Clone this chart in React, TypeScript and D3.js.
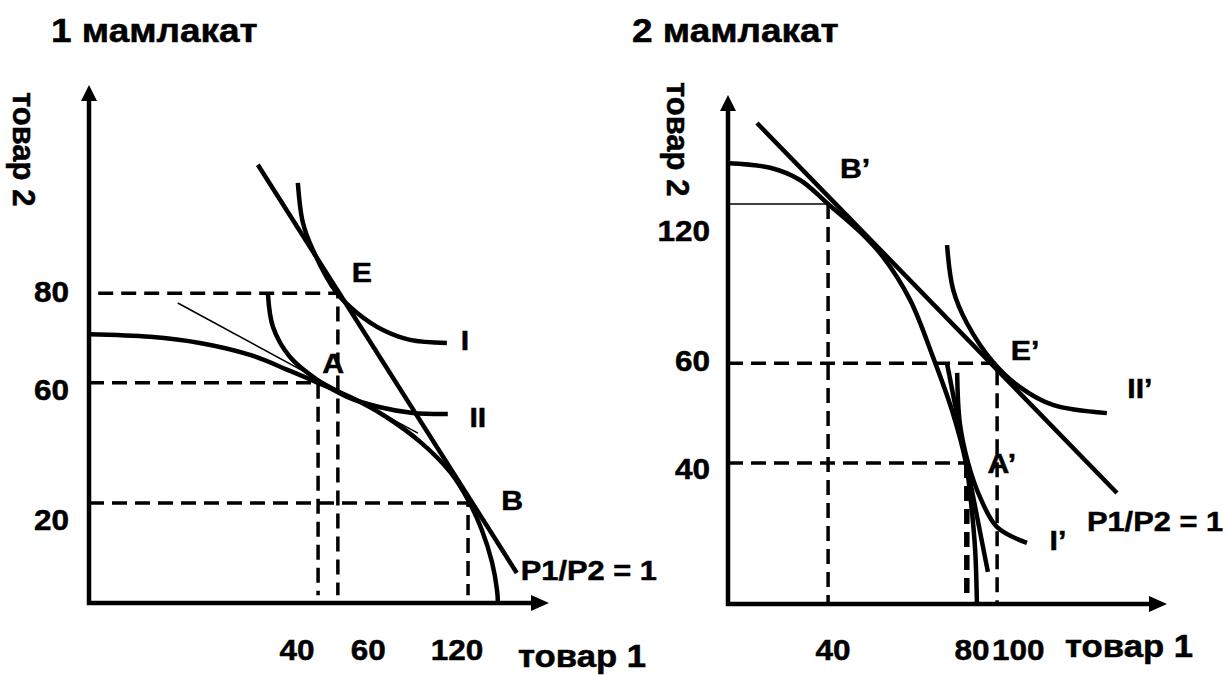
import React from 'react';
import * as d3 from 'd3';

type Pt = [number, number];

// --- country 1 (left panel), schematic units 0..100 on both axes
const ppf1: Pt[] = [
  [0, 51.9], [13.3, 51.4], [24.1, 50.2], [35.0, 47.9], [43.7, 44.8], [49.8, 42.5],
  [56.7, 39.8], [64.3, 36.1], [72.0, 31.1], [78.5, 25.3], [82.4, 19.9], [85.4, 14.1],
  [87.6, 7.9], [88.7, 2.5], [88.9, 0],
];
const curveI1: Pt[] = [
  [45.4, 81.1], [46.5, 73.4], [48.7, 68.1], [53.9, 59.8], [58.3, 56.0], [63.9, 52.7],
  [69.8, 50.8], [77.8, 50.2],
];
const curveII1: Pt[] = [
  [38.9, 59.7], [40.0, 53.3], [43.7, 47.5], [49.6, 43.1], [56.1, 39.8], [63.3, 37.8],
  [70.4, 36.7], [78.0, 36.5],
];
const tangentA1: Pt[] = [[19.3, 57.9], [71.5, 32.8]];
const price1: Pt[] = [[36.7, 84.6], [93.0, 5.8]];
const pointA: Pt = [49.8, 42.5];
const pointE: Pt = [54.1, 59.8];
const pointB: Pt = [82.4, 19.3];
const xTickAt1 = [45.2, 60.7, 80.0];
const xTickLabels1 = ['40', '60', '120'];
const yTickAt1 = [60.2, 41.3, 16.2];
const yTickLabels1 = ['80', '60', '20'];

// --- country 2 (right panel)
const ppf2: Pt[] = [
  [0, 86.6], [9.6, 85.7], [16.4, 83.3], [22.8, 78.6], [30.1, 73.1], [35.3, 68.2],
  [41.5, 59.7], [46.7, 48.5], [51.0, 38.1], [54.2, 27.7], [55.3, 20.4], [56.3, 10.6],
  [56.7, 0],
];
const curveII2: Pt[] = [
  [49.9, 70.5], [51.3, 61.7], [54.4, 55.2], [60.4, 47.5], [66.5, 42.6], [74.0, 39.1],
  [86.3, 37.5],
];
const curveI2: Pt[] = [
  [52.2, 45.4], [52.8, 35.6], [54.7, 27.7], [57.4, 21.0], [61.3, 15.1], [68.1, 12.0],
];
const tangentA2: Pt[] = [[49.9, 47.2], [59.2, 6.3]];
const price2: Pt[] = [[6.6, 94.5], [88.6, 21.8]];
const pointB2: Pt = [22.8, 78.6];
const pointE2: Pt = [61.3, 47.3];
const pointA2: Pt = [54.4, 27.7];
const xTickAt2 = [23.9, 55.6, 66.1];
const xTickLabels2 = ['40', '80', '100'];
const yTickAt2 = [73.5, 47.9, 26.7];
const yTickLabels2 = ['120', '60', '40'];

const FONT = "'Liberation Sans', Arial, Helvetica, sans-serif";
const DASH = '15,8';

// bold text, optionally stretched horizontally like the original scan
function Label({ x, y, size, anchor = 'middle', sx = 1, dy = '0.36em', children }: any) {
  return (
    <text transform={`translate(${x},${y}) scale(${sx},1)`} dy={dy} fontSize={size} fontWeight="bold"
      fontFamily={FONT} textAnchor={anchor} fill="#000" stroke="#000" strokeWidth={0.5}>{children}</text>
  );
}

function Axes({ x, y }: any) {
  const [x0, x1] = x.range();
  const [y0, y1] = y.range();
  return (
    <g>
      <path d={`M${x0},${y1 + 14}V${y0}H${x1 - 16}`} fill="none" stroke="#000" strokeWidth={4.5} />
      <path d={`M${x0},${y1}L${x0 - 8},${y1 + 16}L${x0 + 8},${y1 + 16}Z`} fill="#000" />
      <path d={`M${x1},${y0}L${x1 - 18},${y0 - 8}L${x1 - 18},${y0 + 8}Z`} fill="#000" />
    </g>
  );
}

export default function App() {
  const xL = d3.scaleLinear().domain([0, 100]).range([89, 549]);
  const yL = d3.scaleLinear().domain([0, 100]).range([603, 85]);
  const xR = d3.scaleLinear().domain([0, 100]).range([728, 1167]);
  const yR = d3.scaleLinear().domain([0, 100]).range([604, 95]);

  const lineL = d3.line<Pt>().x(d => xL(d[0])).y(d => yL(d[1])).curve(d3.curveCatmullRom.alpha(0.5));
  const lineR = d3.line<Pt>().x(d => xR(d[0])).y(d => yR(d[1])).curve(d3.curveCatmullRom.alpha(0.5));
  const segL = d3.line<Pt>().x(d => xL(d[0])).y(d => yL(d[1]));
  const segR = d3.line<Pt>().x(d => xR(d[0])).y(d => yR(d[1]));

  const thick = { fill: 'none', stroke: '#000', strokeWidth: 4.5 };
  const dashed = { fill: 'none', stroke: '#000', strokeWidth: 3.5, strokeDasharray: DASH };

  return (
    <svg width={1226} height={675} style={{ position: 'absolute', left: 0, top: 0, background: '#fff' }}>
      <rect width={1226} height={675} fill="#fff" />

      {/* titles */}
      <Label x={51} y={42} size={33} anchor="start" sx={1.12} dy={0}>1 мамлакат</Label>
      <Label x={632} y={42} size={33} anchor="start" sx={1.12} dy={0}>2 мамлакат</Label>

      {/* ---------- left panel ---------- */}
      <text transform="translate(13,92) rotate(90)" fontSize={31} fontWeight="bold" fontFamily={FONT}
        stroke="#000" strokeWidth={0.5}>товар 2</text>
      <Label x={518} y={667} size={31} anchor="start" sx={1.12} dy={0}>товар 1</Label>

      {/* dashed guides */}
      <path d={`M${xL(0)},${yL(pointA[1])}H${xL(pointA[0])}V${yL(1.5)}`} {...dashed} />
      <path d={`M${xL(2)},${yL(pointE[1])}H${xL(pointE[0])}V${yL(1.5)}`} {...dashed} />
      <path d={`M${xL(0)},${yL(pointB[1])}H${xL(pointB[0])}V${yL(1.5)}`} {...dashed} />

      <Axes x={xL} y={yL} />

      <path d={lineL(ppf1) || ''} {...thick} />
      <path d={lineL(curveI1) || ''} {...thick} />
      <path d={lineL(curveII1) || ''} {...thick} />
      <path d={segL(tangentA1) || ''} fill="none" stroke="#000" strokeWidth={1.6} />
      <path d={segL(price1) || ''} {...thick} />

      {xTickLabels1.map((t, i) => (
        <Label key={'xl' + i} x={xL(xTickAt1[i])} y={649} size={30} sx={1.05}>{t}</Label>
      ))}
      {yTickLabels1.map((t, i) => (
        <Label key={'yl' + i} x={xL(0) - 20} y={yL(yTickAt1[i])} size={30} anchor="end" sx={1.05}>{t}</Label>
      ))}

      <Label x={xL(pointE[0]) + 24} y={yL(pointE[1]) - 21} size={28} sx={1.08}>E</Label>
      <Label x={xL(pointA[0]) + 15} y={yL(pointA[1]) - 20} size={28} sx={1.08}>A</Label>
      <Label x={xL(pointB[0]) + 44} y={yL(pointB[1]) - 3} size={28} sx={1.08}>B</Label>
      <Label x={xL(curveI1[curveI1.length - 1][0]) + 18} y={yL(curveI1[curveI1.length - 1][1]) - 3} size={28} sx={1.08}>I</Label>
      <Label x={xL(curveII1[curveII1.length - 1][0]) + 30} y={yL(curveII1[curveII1.length - 1][1]) + 3} size={28} sx={1.08}>II</Label>
      <Label x={xL(price1[1][0]) + 4} y={yL(price1[1][1]) - 3} size={28} anchor="start" sx={1.1}>P1/P2 = 1</Label>

      {/* ---------- right panel ---------- */}
      <text transform="translate(667,82) rotate(90)" fontSize={31} fontWeight="bold" fontFamily={FONT}
        stroke="#000" strokeWidth={0.5}>товар 2</text>
      <Label x={1065} y={657} size={31} anchor="start" sx={1.12} dy={0}>товар 1</Label>

      <path d={`M${xR(0)},${yR(pointB2[1])}H${xR(pointB2[0])}`} fill="none" stroke="#000" strokeWidth={1.6} />
      <path d={`M${xR(pointB2[0])},${yR(pointB2[1])}V${yR(0)}`} {...dashed} />
      <path d={`M${xR(0)},${yR(pointE2[1])}H${xR(pointE2[0])}V${yR(0)}`} {...dashed} />
      <path d={`M${xR(0)},${yR(pointA2[1])}H${xR(pointA2[0])}`} {...dashed} />
      <path d={`M${xR(pointA2[0])},${yR(pointA2[1])}V${yR(1.4)}`} {...dashed} strokeWidth={5.5} />

      <Axes x={xR} y={yR} />

      <path d={lineR(ppf2) || ''} {...thick} />
      <path d={lineR(curveII2) || ''} {...thick} />
      <path d={lineR(curveI2) || ''} {...thick} />
      <path d={segR(tangentA2) || ''} {...thick} />
      <path d={segR(price2) || ''} {...thick} />

      {xTickLabels2.map((t, i) => (
        <Label key={'xr' + i} x={xR(xTickAt2[i])} y={649} size={30} sx={1.05}>{t}</Label>
      ))}
      {yTickLabels2.map((t, i) => (
        <Label key={'yr' + i} x={xR(0) - 18} y={yR(yTickAt2[i])} size={30} anchor="end" sx={1.05}>{t}</Label>
      ))}

      <Label x={xR(pointB2[0]) + 27} y={yR(pointB2[1]) - 36} size={28} sx={1.08}>B’</Label>
      <Label x={xR(pointE2[0]) + 28} y={yR(pointE2[1]) - 13} size={28} sx={1.08}>E’</Label>
      <Label x={xR(pointA2[0]) + 35} y={yR(pointA2[1])} size={28} sx={1.08}>A’</Label>
      <Label x={xR(curveII2[curveII2.length - 1][0]) + 33} y={yR(curveII2[curveII2.length - 1][1]) - 25} size={28} sx={1.08}>II’</Label>
      <Label x={xR(curveI2[curveI2.length - 1][0]) + 31} y={yR(curveI2[curveI2.length - 1][1]) - 3} size={28} sx={1.08}>I’</Label>
      <Label x={xR(price2[1][0]) - 30} y={yR(price2[1][1]) + 28} size={28} anchor="start" sx={1.1}>P1/P2 = 1</Label>
    </svg>
  );
}
